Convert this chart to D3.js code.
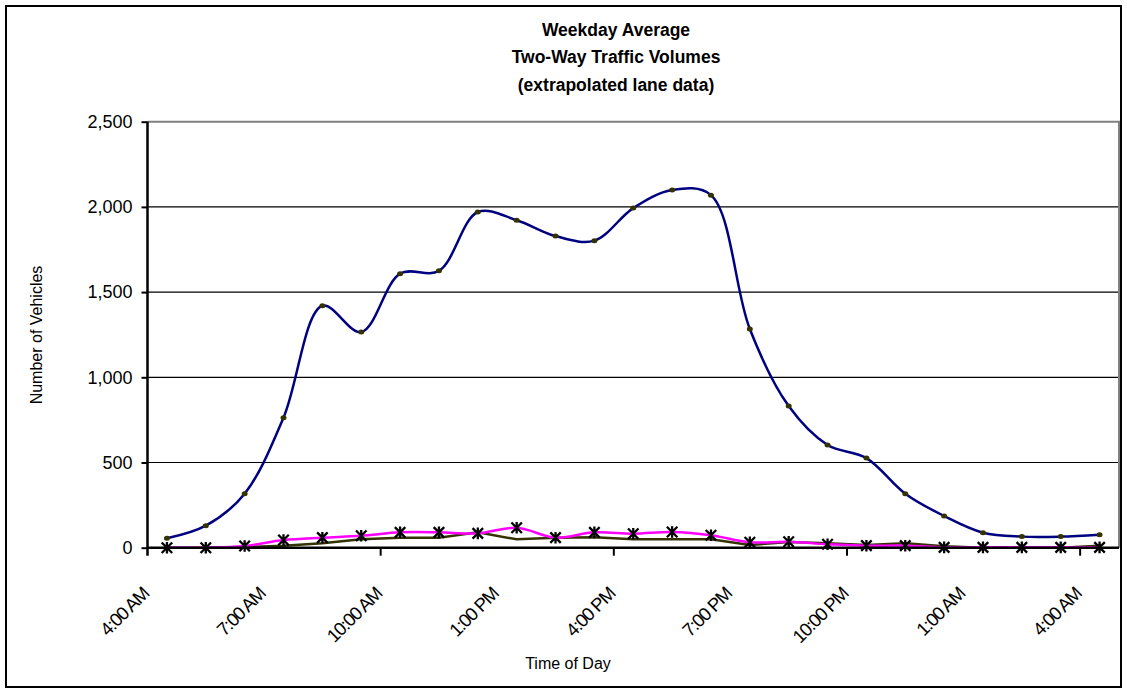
<!DOCTYPE html>
<html lang="en">
<head>
<meta charset="utf-8">
<title>Weekday Average Two-Way Traffic Volumes</title>
<script src="https://cdn.jsdelivr.net/npm/d3@7"></script>
<style>
  body { margin: 0; background: #fff; }
  text { font-family: "Liberation Sans", Arial, sans-serif; fill: #000; }
</style>
</head>
<body>
<script>
var w = 1127, h = 693;

// hourly categories, 4 AM through 4 AM the next day
var hours = ["4:00 AM", "5:00 AM", "6:00 AM", "7:00 AM", "8:00 AM", "9:00 AM", "10:00 AM", "11:00 AM",
  "12:00 PM", "1:00 PM", "2:00 PM", "3:00 PM", "4:00 PM", "5:00 PM", "6:00 PM", "7:00 PM", "8:00 PM",
  "9:00 PM", "10:00 PM", "11:00 PM", "12:00 AM", "1:00 AM", "2:00 AM", "3:00 AM", "4:00 AM"];

// two-way total (blue line, olive dots)
var totalVolume = [55, 129, 317, 763, 1420, 1266, 1608, 1625, 1970, 1922, 1829, 1802, 1993, 2099, 2069,
  1283, 831, 603, 526, 317, 186, 88, 65, 65, 76];
// lane series (magenta with star markers, olive plain line)
var laneA = [0, 0, 10, 45, 59, 70, 90, 90, 84, 117, 59, 90, 82, 92, 73, 32, 35, 20, 12, 12, 2, 2, 2, 2, 2];
var laneB = [0, 0, 4, 12, 26, 49, 59, 59, 90, 49, 59, 61, 49, 49, 49, 16, 33, 26, 16, 26, 8, 0, 0, 0, 12];

var yTicks = [0, 500, 1000, 1500, 2000, 2500];
var titleLines = ["Weekday Average", "Two-Way Traffic Volumes", "(extrapolated lane data)"];

var plotLeft = 147.5, plotRight = 1119, plotTop = 121.7, plotBottom = 547.7;

var svg = d3.select("body").append("svg")
  .attr("width", w)
  .attr("height", h);

svg.append("rect")
  .attr("x", 6).attr("y", 6)
  .attr("width", 1115).attr("height", 681)
  .attr("fill", "#fff")
  .attr("stroke", "#000")
  .attr("stroke-width", 2);

var x = d3.scaleBand()
  .domain(d3.range(hours.length))
  .range([plotLeft, plotRight]);
function cx(i) { return x(i) + x.bandwidth() / 2; }

var y = d3.scaleLinear()
  .domain([0, 2500])
  .range([plotBottom, plotTop]);

// gridlines
svg.append("g").selectAll("line")
  .data(yTicks.filter(function(d) { return d > 0 && d < 2500; }))
  .enter().append("line")
  .attr("x1", plotLeft).attr("x2", plotRight)
  .attr("y1", function(d) { return y(d); })
  .attr("y2", function(d) { return y(d); })
  .attr("stroke", "#000")
  .attr("stroke-width", 1.2);

// plot area border (top and right)
svg.append("path")
  .attr("d", "M" + plotLeft + "," + y(2500) + "H" + plotRight + "V" + plotBottom)
  .attr("fill", "none")
  .attr("stroke", "#808080")
  .attr("stroke-width", 2);

// series
var smooth = d3.line()
  .x(function(d, i) { return cx(i); })
  .y(function(d) { return y(d); })
  .curve(d3.curveCatmullRom.alpha(0.5));
var straight = d3.line()
  .x(function(d, i) { return cx(i); })
  .y(function(d) { return y(d); });

svg.append("path")
  .attr("d", straight(laneB))
  .attr("fill", "none")
  .attr("stroke", "#333300")
  .attr("stroke-width", 2.5);

svg.append("path")
  .attr("d", smooth(laneA))
  .attr("fill", "none")
  .attr("stroke", "#ff00ff")
  .attr("stroke-width", 2.5);

svg.append("path")
  .attr("d", smooth(totalVolume))
  .attr("fill", "none")
  .attr("stroke", "#000080")
  .attr("stroke-width", 2.5);

svg.append("g").selectAll("ellipse")
  .data(totalVolume)
  .enter().append("ellipse")
  .attr("cx", function(d, i) { return cx(i); })
  .attr("cy", function(d) { return y(d); })
  .attr("rx", 3)
  .attr("ry", 2.5)
  .attr("fill", "#333300");

// star marker: X with a vertical stroke
var star = {
  draw: function(ctx, size) {
    var r = Math.sqrt(size) / 2;
    ctx.moveTo(-r, -r); ctx.lineTo(r, r);
    ctx.moveTo(r, -r); ctx.lineTo(-r, r);
    ctx.moveTo(0, -r * 1.1); ctx.lineTo(0, r * 1.1);
  }
};
svg.append("g").selectAll("path")
  .data(laneA)
  .enter().append("path")
  .attr("transform", function(d, i) { return "translate(" + cx(i) + "," + y(d) + ")"; })
  .attr("d", d3.symbol().type(star).size(110))
  .attr("fill", "none")
  .attr("stroke", "#000")
  .attr("stroke-width", 2.3);

// y axis
var yAxis = svg.append("g")
  .attr("transform", "translate(" + plotLeft + ",0)")
  .call(d3.axisLeft(y).tickValues(yTicks).tickFormat(d3.format(",")).tickSize(6).tickPadding(9));
yAxis.select(".domain").remove();
yAxis.selectAll(".tick line").attr("stroke", "#000").attr("stroke-width", 2);
yAxis.selectAll(".tick text")
  .attr("font-size", "18px")
  .attr("font-family", "Liberation Sans, Arial, sans-serif");

svg.append("line")
  .attr("x1", plotLeft).attr("x2", plotLeft)
  .attr("y1", plotTop).attr("y2", plotBottom + 8)
  .attr("stroke", "#000")
  .attr("stroke-width", 2.5);

// x axis
svg.append("line")
  .attr("x1", plotLeft).attr("x2", plotRight)
  .attr("y1", plotBottom).attr("y2", plotBottom)
  .attr("stroke", "#000")
  .attr("stroke-width", 2.5);

svg.append("g").selectAll("line")
  .data(d3.range(6, hours.length, 6))
  .enter().append("line")
  .attr("x1", function(i) { return x(i); })
  .attr("x2", function(i) { return x(i); })
  .attr("y1", plotBottom).attr("y2", plotBottom + 8)
  .attr("stroke", "#000")
  .attr("stroke-width", 2);

svg.append("g").selectAll("text")
  .data(d3.range(0, hours.length, 3))
  .enter().append("text")
  .attr("transform", function(i) { return "translate(" + (cx(i) - 17) + ",595) rotate(-45)"; })
  .attr("text-anchor", "end")
  .attr("font-size", "18.5px")
  .attr("letter-spacing", "-1.2px")
  .text(function(i) { return hours[i]; });

// titles
svg.append("g").selectAll("text")
  .data(titleLines)
  .enter().append("text")
  .attr("x", 616)
  .attr("y", function(d, i) { return 36 + i * 27.3; })
  .attr("text-anchor", "middle")
  .attr("font-size", "17.5px")
  .attr("font-weight", "bold")
  .text(function(d) { return d; });

svg.append("text")
  .attr("x", 568).attr("y", 669)
  .attr("text-anchor", "middle")
  .attr("font-size", "16px")
  .text("Time of Day");

svg.append("text")
  .attr("transform", "translate(42,335) rotate(-90)")
  .attr("text-anchor", "middle")
  .attr("font-size", "16px")
  .text("Number of Vehicles");
</script>
</body>
</html>
